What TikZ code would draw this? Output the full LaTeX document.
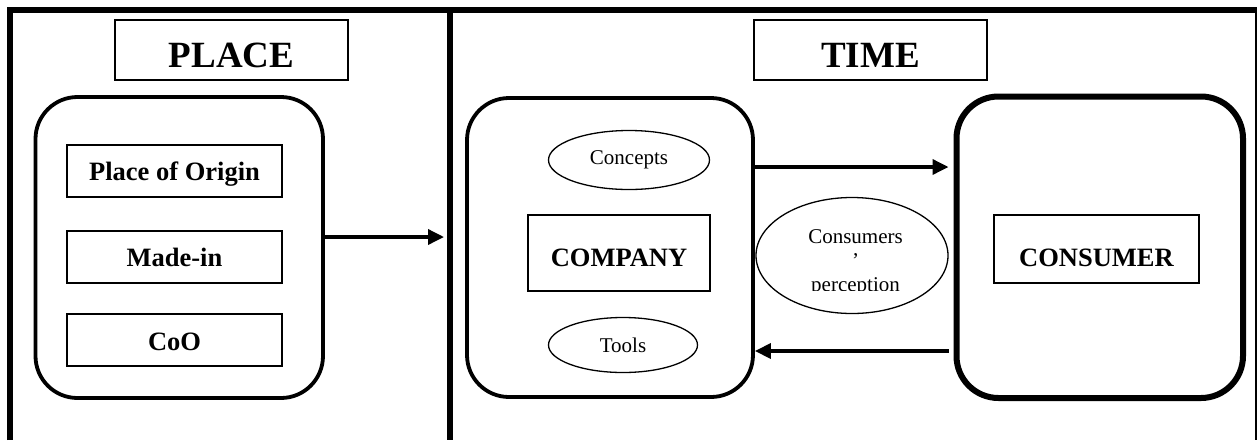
\documentclass[tikz,border=0pt]{standalone}
\usepackage{fontspec}
\setmainfont{Liberation Serif}
\usetikzlibrary{arrows.meta,shapes.geometric}

\begin{document}
\begin{tikzpicture}[x=1pt,y=-1pt,
  titlebox/.style={draw, line width=1.6pt, minimum width=233pt, minimum height=60pt,
    inner sep=0pt, text height=34pt, text depth=0pt,
    font=\fontsize{37}{40}\selectfont\bfseries},
  groupbox/.style={draw, rounded corners=42pt, inner sep=0pt},
  itembox/.style={draw, line width=1.6pt, minimum width=215pt, minimum height=52pt,
    inner sep=0pt, text height=19pt, text depth=0pt,
    font=\fontsize{26.5}{30}\selectfont\bfseries},
  actorbox/.style={draw, line width=1.6pt, inner sep=0pt, text depth=0pt,
    font=\fontsize{26.5}{30}\selectfont\bfseries},
  oval/.style={draw, ellipse, line width=1.3pt, inner sep=0pt,
    font=\fontsize{21}{24}\selectfont},
  ovaltext/.style={anchor=base, inner sep=0pt, font=\fontsize{21}{24}\selectfont},
  flow/.style={line width=3.5pt, -{Triangle[length=16pt,width=15pt]}}
]
\useasboundingbox (0,0) rectangle (1258,440);

% outer frame and the divider between the two panels
\draw[line width=6pt] (10,440) -- (10,10) -- (1257,10);
\draw[line width=6pt] (450,10) -- (450,440);
\draw[line width=2pt] (1256,10) -- (1256,440);

% left panel: PLACE
\node[titlebox] (place) at (231.5,50) {PLACE};
\node[groupbox, line width=3.8pt, minimum width=287.5pt, minimum height=301pt] (lbox) at (179.25,247.5) {};
\node[itembox] (origin) at (174.5,171) {Place of Origin};
\node[itembox, text height=19.4pt] (madein) at (174.5,257) {Made-in};
\node[itembox, text height=20pt] (coo) at (174.5,340) {CoO};

% right panel: TIME
\node[titlebox] (time) at (870.5,50) {TIME};
\node[groupbox, line width=3.8pt, minimum width=286pt, minimum height=299pt] (comp) at (610,247.5) {};
\node[groupbox, line width=6pt, minimum width=286.5pt, minimum height=301.5pt] (cons) at (1099.75,247.25) {};

\node[oval, minimum width=161pt, minimum height=59pt] (concepts) at (629,160) {Concepts};
\node[actorbox, minimum width=182pt, minimum height=76pt, text height=27.4pt] (company) at (619,253) {COMPANY};
\node[oval, minimum width=149pt, minimum height=55pt] (tools) at (623,345) {Tools};

\node[actorbox, minimum width=205pt, minimum height=68pt, text height=35.4pt] (consumer) at (1096.5,249) {CONSUMER};

\node[oval, minimum width=192pt, minimum height=116pt] (percep) at (852,255.5) {};
\begin{scope}
  \clip (760,200) rectangle (950,290.5);
  \node[ovaltext] (pl1) at (855.5,243) {Consumers};
  \node[ovaltext] (pl2) at (855.5,267) {’};
  \node[ovaltext] (pl3) at (855.5,291) {perception};
\end{scope}

% connectors
\coordinate (pa) at (444,237);
\coordinate (ya) at (0,167);
\coordinate (yb) at (0,351);
\draw[flow] (lbox.east |- pa) -- (pa);
\draw[flow, shorten >=5pt] (comp.east |- ya) -- (cons.west |- ya);
\draw[flow, shorten <=5pt] (cons.west |- yb) -- (comp.east |- yb);
\end{tikzpicture}
\end{document}
